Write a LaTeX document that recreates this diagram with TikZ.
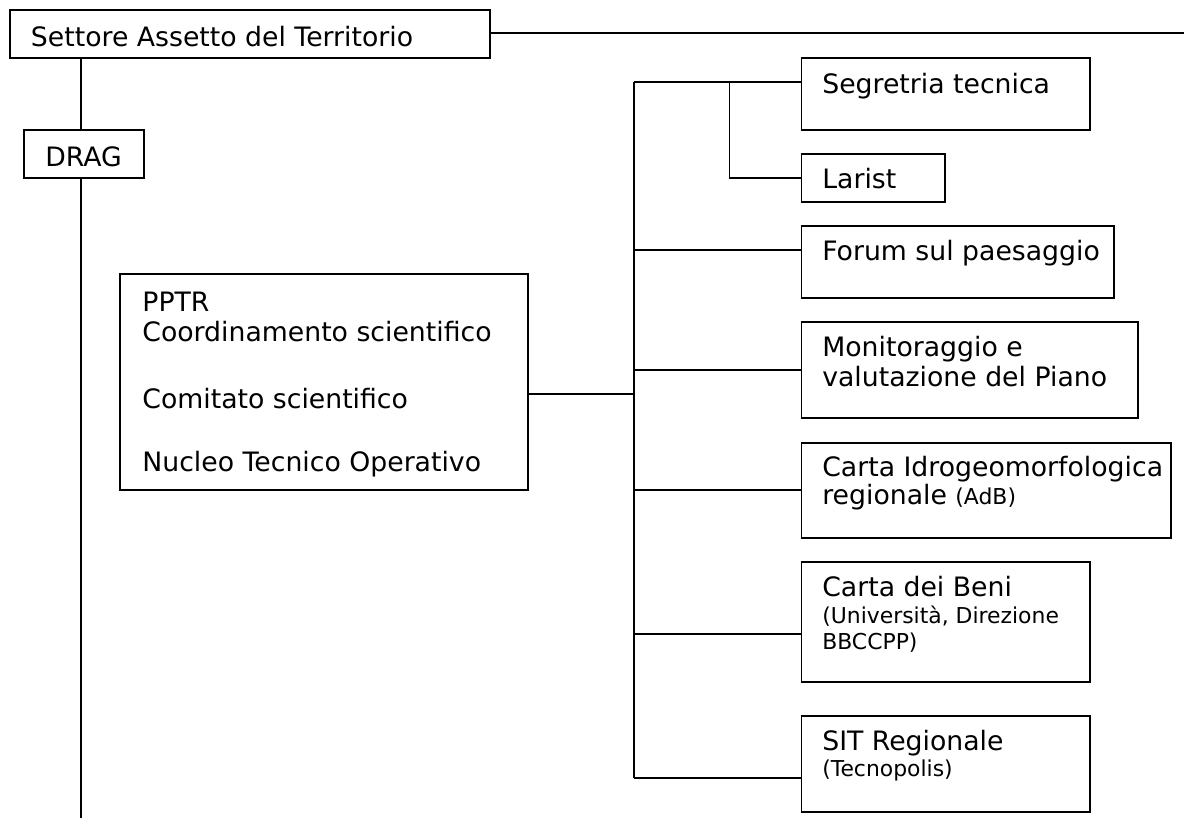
\documentclass[tikz,border=0pt]{standalone}
\usepackage{fontspec}
\setmainfont{DejaVu Sans}
\newcommand\nfont{\fontsize{13.35pt}{15pt}\selectfont}
\newcommand\smfont{\fontsize{10.95pt}{12pt}\selectfont}
\begin{document}
\begin{tikzpicture}[x=0.5pt,y=-0.5pt,
  box/.style={draw, line width=0.9pt, inner sep=0pt, outer sep=0pt, anchor=north west},
  conn/.style={line width=0.9pt},
  txt/.style={inner sep=0pt, anchor=base west, font=\nfont},
  stxt/.style={inner sep=0pt, anchor=base west, font=\smfont}]
\useasboundingbox (0,0) rectangle (1184,821);
% boxes
\node[box, minimum width=240.2pt, minimum height=24.15pt] (set) at (9.6,10) {};
\node[box, minimum width=60.3pt, minimum height=24.15pt] (drag) at (23.7,130) {};
\node[box, minimum width=204.15pt, minimum height=108pt] (pptr) at (119.6,274) {};
\node[box, minimum width=144.05pt, minimum height=35.85pt] (seg) at (801.5,58.3) {};
\node[box, minimum width=71.85pt, minimum height=24pt] (lar) at (801.5,154.3) {};
\node[box, minimum width=156.2pt, minimum height=36.15pt] (for) at (801.5,226) {};
\node[box, minimum width=168.15pt, minimum height=48pt] (mon) at (801.5,322.3) {};
\node[box, minimum width=184.9pt, minimum height=47.8pt] (idr) at (801.5,442.7) {};
\node[box, minimum width=144.05pt, minimum height=60pt] (ben) at (801.5,562.3) {};
\node[box, minimum width=144.05pt, minimum height=47.85pt] (sit) at (801.5,716) {};
% texts
\node[txt] (tset) at (30.6,46.7) {Settore Assetto del Territorio};
\node[txt] (tdrag) at (45,166.7) {DRAG};
\node[txt] (tp1) at (142,311.7) {PPTR};
\node[txt] (tp2) at (142,341.7) {Coordinamento scientifico};
\node[txt] (tp3) at (142,408.3) {Comitato scientifico};
\node[txt] (tp4) at (142,471.7) {Nucleo Tecnico Operativo};
\node[txt] (tseg) at (821.9,93.3) {Segretria tecnica};
\node[txt] (tlar) at (821.9,188.3) {Larist};
\node[txt] (tfor) at (821.9,260.7) {Forum sul paesaggio};
\node[txt] (tmon1) at (821.9,356.7) {Monitoraggio e};
\node[txt] (tmon2) at (821.9,386) {valutazione del Piano};
\node[txt] (tidr1) at (821.9,476) {Carta Idrogeomorfologica};
\node[txt] (tidr2) at (821.9,504.3) {regionale {\smfont(AdB)}};
\node[txt] (tben1) at (821.9,596) {Carta dei Beni};
\node[stxt] (tben2) at (821.9,623.3) {(Università, Direzione};
\node[stxt] (tben3) at (821.9,649.3) {BBCCPP)};
\node[txt] (tsit1) at (821.9,750.7) {SIT Regionale};
\node[stxt] (tsit2) at (821.9,776.7) {(Tecnopolis)};
% coordinates
\coordinate (rend) at (1184,33.3);
\coordinate (lx) at (81,0);
\coordinate (lbot) at (81,818);
\coordinate (jtop) at (634,82.3);
\coordinate (jp) at (634,394.3);
\coordinate (jfor) at (634,250.3);
\coordinate (jmon) at (634,370.3);
\coordinate (jidr) at (634,490.3);
\coordinate (jben) at (634,634.3);
\coordinate (jsit) at (634,778.3);
\coordinate (sx) at (729.5,82.3);
\coordinate (sl) at (729.5,177.7);
% connectors
\draw[conn] (set.east |- rend) -- (rend);
\draw[conn] (lx |- set.south) -- (lx |- drag.north);
\draw[conn] (lx |- drag.south) -- (lbot);
\draw[conn] (pptr.east |- jp) -- (jp);
\draw[conn] (jtop) -- (jsit);
\draw[conn] (jtop) -- (seg.west |- jtop);
\draw[conn] (sx) -- (sl) -- (lar.west |- sl);
\draw[conn] (jfor) -- (for.west |- jfor);
\draw[conn] (jmon) -- (mon.west |- jmon);
\draw[conn] (jidr) -- (idr.west |- jidr);
\draw[conn] (jben) -- (ben.west |- jben);
\draw[conn] (jsit) -- (sit.west |- jsit);
\end{tikzpicture}
\end{document}
